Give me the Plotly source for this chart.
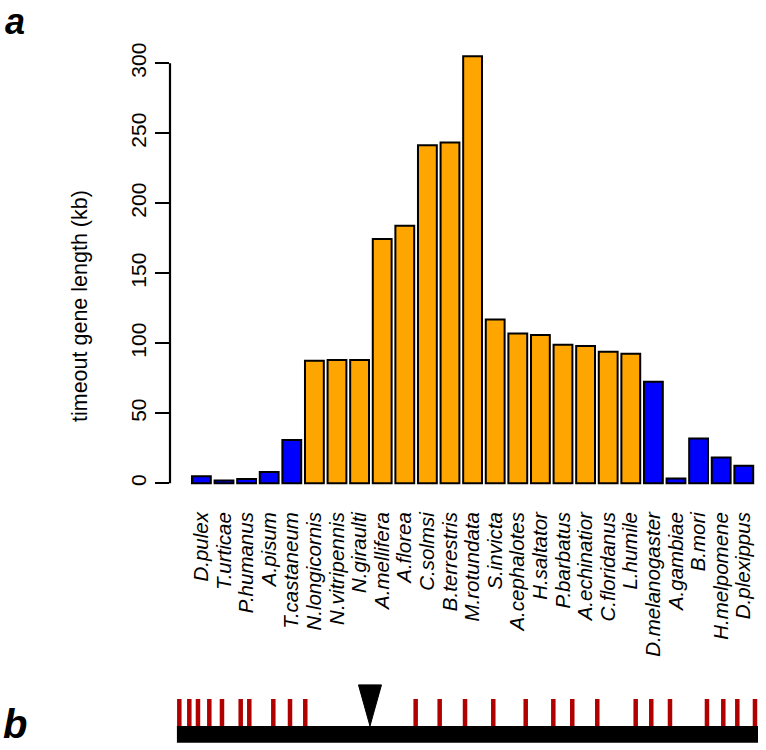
import plotly.graph_objects as go

# ---------------- data ----------------
species = ["D.pulex", "T.urticae", "P.humanus", "A.pisum", "T.castaneum",
           "N.longicornis", "N.vitripennis", "N.giraulti", "A.mellifera", "A.florea",
           "C.solmsi", "B.terrestris", "M.rotundata", "S.invicta", "A.cephalotes",
           "H.saltator", "P.barbatus", "A.echinatior", "C.floridanus", "L.humile",
           "D.melanogaster", "A.gambiae", "B.mori", "H.melpomene", "D.plexippus"]
gene_length_kb = [5, 2, 3, 8, 31,
                  87.5, 88, 88, 174.5, 184,
                  241.5, 243.5, 305, 117, 107,
                  106, 99, 98, 94, 92.5,
                  72.5, 3.5, 32, 18.5, 12.5]
is_hymenoptera = [False] * 5 + [True] * 15 + [False] * 5
y_ticks = [0, 50, 100, 150, 200, 250, 300]

# panel b: positions along the gene (% of gene length)
gene_start, gene_end = 0, 100
site_positions = [0.45, 2.17, 3.66, 5.61, 7.79, 11.01, 12.49, 16.62, 19.49, 22.12,
                  41.11, 45.24, 49.6, 54.46, 60.04, 64.79, 68.05, 72.35,
                  78.96, 81.64, 84.86, 91.22, 94.03, 96.44, 99.48]
marker_position = 33.25

# ---------------- styles ----------------
W, H = 766, 750
FONT = "Liberation Sans, Arial, sans-serif"
ORANGE, BLUE, RED = "#FFA500", "#0000FF", "#B00000"


def px_x(p):
    return p / W


def px_y(p):
    return 1 - p / H


colors = [ORANGE if h else BLUE for h in is_hymenoptera]

fig = go.Figure()
fig.add_trace(go.Bar(
    x=list(range(len(species))), y=gene_length_kb,
    marker=dict(color=colors, line=dict(color="black", width=2)),
    xaxis="x", yaxis="y", showlegend=False, hoverinfo="x+y",
))

# panel b traces
tick_h = 1.0
xs, ys = [], []
for p in site_positions:
    xs += [p, p, None]
    ys += [0, tick_h, None]
fig.add_trace(go.Scatter(x=xs, y=ys, mode="lines",
                         line=dict(color=RED, width=4.5),
                         xaxis="x2", yaxis="y2", showlegend=False, hoverinfo="skip"))
half_w, tri_h = 1.98, 1.52
fig.add_trace(go.Scatter(
    x=[marker_position - half_w, marker_position + half_w, marker_position, marker_position - half_w],
    y=[tri_h, tri_h, 0, tri_h], mode="lines", fill="toself", fillcolor="black",
    line=dict(color="black", width=1), xaxis="x2", yaxis="y2",
    showlegend=False, hoverinfo="skip"))

shapes = [
    # y-axis line from 0 to 300 only (R style)
    dict(type="line", xref="paper", yref="y", x0=px_x(170), x1=px_x(170),
         y0=y_ticks[0], y1=y_ticks[-1], line=dict(color="black", width=2.2)),
    # gene backbone
    dict(type="rect", xref="x2", yref="y2", x0=gene_start, x1=gene_end,
         y0=-0.62, y1=0, fillcolor="black", line=dict(width=0), layer="below"),
]

annotations = [
    dict(text="timeout gene length (kb)", x=px_x(80), y=px_y(306), xref="paper", yref="paper",
         showarrow=False, textangle=-90, font=dict(family=FONT, size=21.5, color="black"),
         xanchor="center", yanchor="middle"),
    dict(text="<b><i>a</i></b>", x=px_x(4), y=1, xref="paper", yref="paper",
         showarrow=False, font=dict(family=FONT, size=36, color="black"),
         xanchor="left", yanchor="top", borderpad=0),
    dict(text="<b><i>b</i></b>", x=px_x(2), y=px_y(724), xref="paper", yref="paper",
         showarrow=False, font=dict(family=FONT, size=40, color="black"),
         xanchor="left", yanchor="middle", borderpad=0),
]

fig.update_layout(
    width=W, height=H, autosize=False,
    margin=dict(l=0, r=0, t=0, b=0),
    paper_bgcolor="white", plot_bgcolor="white",
    bargap=0.167,
    font=dict(family=FONT, color="black"),
    xaxis=dict(domain=[px_x(170), px_x(756)], range=[-1.389, 24.54],
               tickmode="array", tickvals=list(range(len(species))), ticktext=species,
               tickangle=-90, tickfont=dict(family=FONT, size=20.5, style="italic", color="black"),
               ticks="", ticklabelstandoff=17,
               showline=False, showgrid=False, zeroline=False, anchor="y"),
    yaxis=dict(domain=[px_y(490), px_y(40)], range=[-4.79, 316.64],
               tickmode="array", tickvals=y_ticks, ticktext=[str(v) for v in y_ticks],
               tickangle=-90, ticks="outside", ticklen=14, tickwidth=2.2, tickcolor="black",
               ticklabelstandoff=1,
               tickfont=dict(family=FONT, size=21, color="black"),
               showline=False, showgrid=False, zeroline=False, anchor="x"),
    xaxis2=dict(domain=[px_x(176.7), px_x(758)], range=[gene_start, gene_end],
                visible=False, anchor="y2"),
    yaxis2=dict(domain=[px_y(745), px_y(680)], range=[-0.70, 1.70],
                visible=False, anchor="x2"),
    shapes=shapes, annotations=annotations,
)

fig.write_html("out.html",
               config={"displayModeBar": False},
               post_script="document.body.style.margin='0';document.body.style.overflow='hidden';")
